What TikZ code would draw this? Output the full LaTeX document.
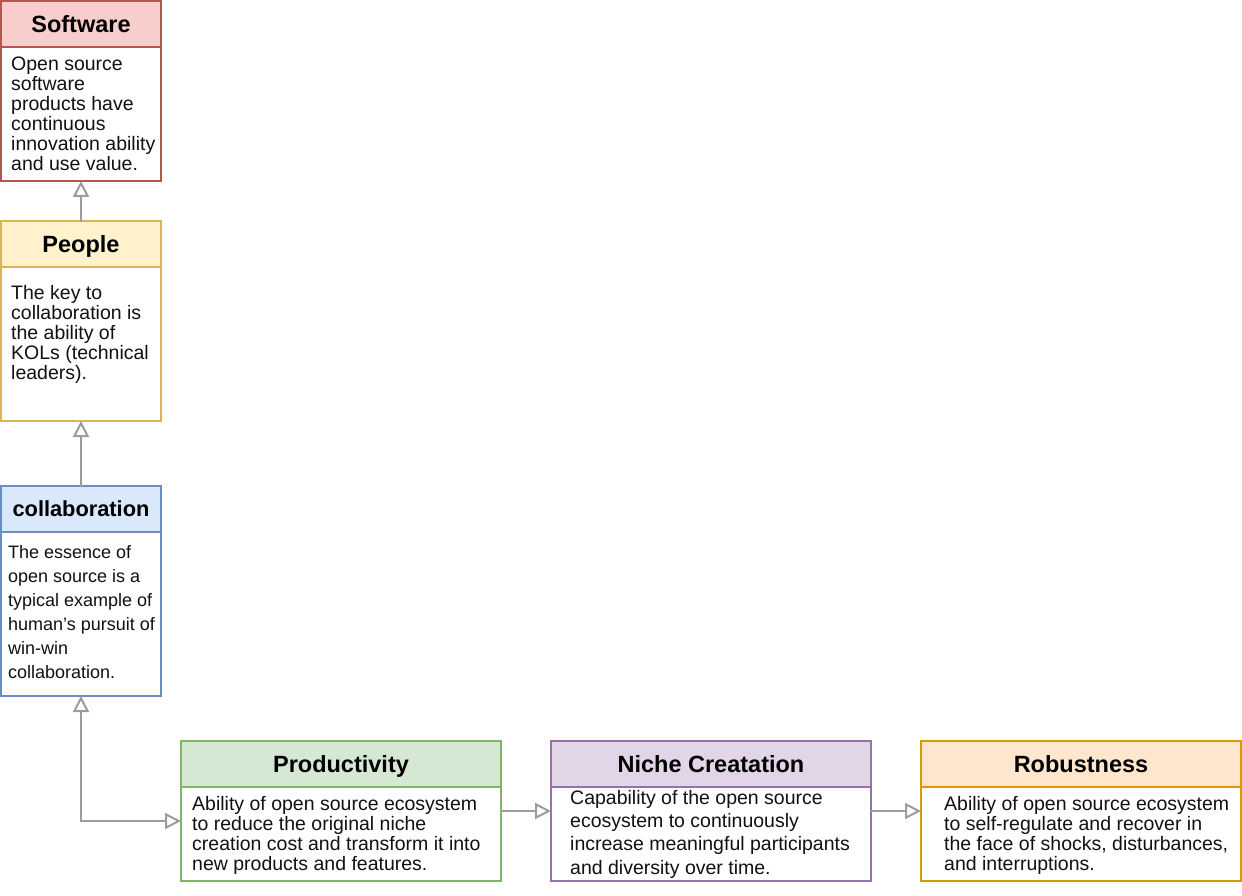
\documentclass[tikz,border=0pt]{standalone}
\usepackage{fontspec}
\setmainfont{Liberation Sans}
\usetikzlibrary{positioning, arrows.meta}
\definecolor{softfill}{HTML}{F8CECC}
\definecolor{softline}{HTML}{B85450}
\definecolor{peoplefill}{HTML}{FFF2CC}
\definecolor{peopleline}{HTML}{D6B656}
\definecolor{collabfill}{HTML}{DAE8FC}
\definecolor{collabline}{HTML}{6C8EBF}
\definecolor{prodfill}{HTML}{D5E8D4}
\definecolor{prodline}{HTML}{82B366}
\definecolor{nichefill}{HTML}{E1D5E7}
\definecolor{nicheline}{HTML}{9673A6}
\definecolor{robfill}{HTML}{FFE6CC}
\definecolor{robline}{HTML}{D79B00}
\definecolor{arrgray}{HTML}{9C9C9C}
\definecolor{bodytext}{HTML}{111111}

\begin{document}
\begin{tikzpicture}[x=1pt, y=-1pt,
    frame/.style={draw=#1, fill=white, line width=1.5pt, outer sep=0pt},
    head/.style 2 args={draw=#1, fill=#2, line width=1.5pt, outer sep=0pt, anchor=north,
      minimum height=46pt, text height=16.8pt, text depth=0pt,
      font=\fontsize{23.5}{28}\selectfont\bfseries},
    txt/.style={anchor=north west, inner sep=0pt, align=left, text=bodytext,
      font=\fontsize{19.5}{20}\selectfont},
    link/.style={draw=arrgray, line width=2.4pt, line cap=round,
      -{Triangle[open, length=16pt, width=16pt, line width=2pt]}}]
  \useasboundingbox (0,0) rectangle (1242,896);

  % left column
  \node[frame=softline, minimum width=160pt, minimum height=180pt] (soft) at (81,91) {};
  \node[head={softline}{softfill}, minimum width=160pt] (softhead) at (soft.north) {Software};
  \node[txt] (softtxt) at (11,57) {Open source\\software\\products have\\continuous\\innovation ability\\and use value.};

  \node[frame=peopleline, minimum width=160pt, minimum height=200pt] (people) at (81,321) {};
  \node[head={peopleline}{peoplefill}, minimum width=160pt] (peoplehead) at (people.north) {People};
  \node[txt] (peopletxt) at (11,285) {The key to\\collaboration is\\the ability of\\KOLs (technical\\leaders).};

  \node[frame=collabline, minimum width=160pt, minimum height=210pt] (collab) at (81,591) {};
  \node[head={collabline}{collabfill}, minimum width=160pt, text height=15.6pt,
    font=\fontsize{21.8}{26}\selectfont\bfseries] (collabhead) at (collab.north) {collaboration};
  \node[txt, font=\fontsize{18}{24}\selectfont] (collabtxt) at (8,545)
    {The essence of\\open source is a\\typical example of\\human's pursuit of\\win-win\\collaboration.};

  % bottom row
  \node[frame=prodline, minimum width=320pt, minimum height=140pt] (prod) at (341,811) {};
  \node[head={prodline}{prodfill}, minimum width=320pt] (prodhead) at (prod.north) {Productivity};
  \node[txt] (prodtxt) at (192,796) {Ability of open source ecosystem\\to reduce the original niche\\creation cost and transform it into\\new products and features.};

  \node[frame=nicheline, minimum width=320pt, minimum height=140pt] (niche) at (711,811) {};
  \node[head={nicheline}{nichefill}, minimum width=320pt] (nichehead) at (niche.north) {Niche Creatation};
  \node[txt, font=\fontsize{19.5}{23.3}\selectfont] (nichetxt) at (570,790) {Capability of the open source\\ecosystem to continuously\\increase meaningful participants\\and diversity over time.};

  \node[frame=robline, minimum width=320pt, minimum height=140pt] (rob) at (1081,811) {};
  \node[head={robline}{robfill}, minimum width=320pt] (robhead) at (rob.north) {Robustness};
  \node[txt] (robtxt) at (944,796) {Ability of open source ecosystem\\to self-regulate and recover in\\the face of shocks, disturbances,\\and interruptions.};

  % links
  \coordinate (corner) at (81,821);
  \draw[link] (people.north) -- (soft.south);
  \draw[link] (collab.north) -- (people.south);
  \draw[link] (corner) -- (collab.south);
  \draw[link] (corner) -- (corner -| prod.west);
  \draw[link] (prod.east) -- (niche.west);
  \draw[link] (niche.east) -- (rob.west);
\end{tikzpicture}
\end{document}
